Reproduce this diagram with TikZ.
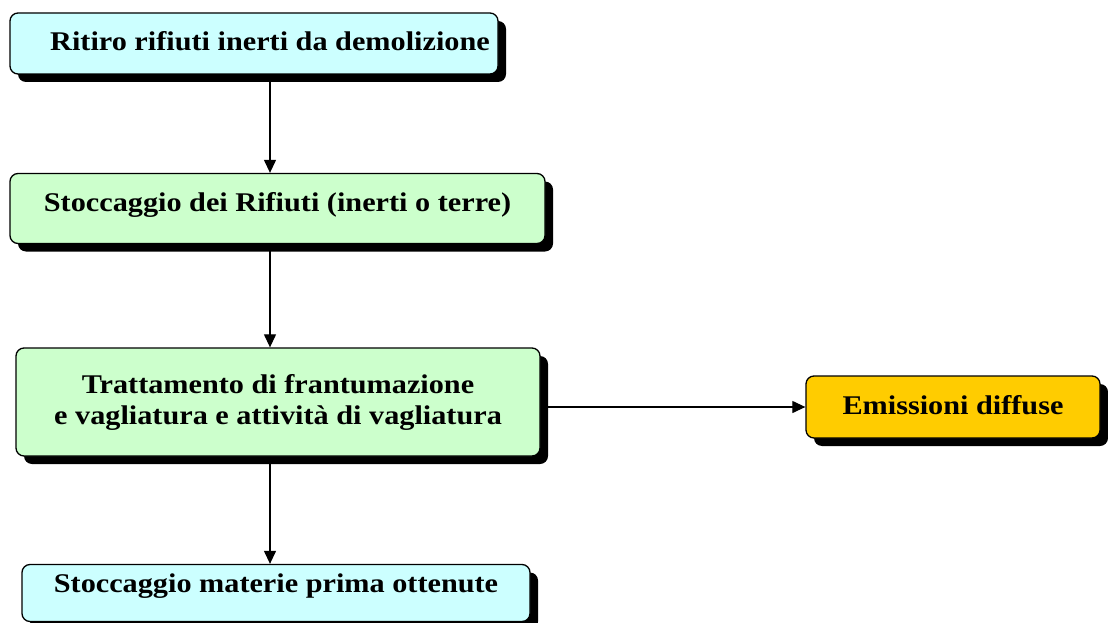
\documentclass[tikz,border=0pt]{standalone}
\usepackage{fontspec}
\setmainfont{Liberation Serif}[FakeStretch=1.12]
\usepackage{xcolor}
\usetikzlibrary{positioning, shadows, arrows.meta}

\definecolor{lightcyan}{HTML}{CCFFFF}
\definecolor{lightgreen}{HTML}{CCFFCC}
\definecolor{gold}{HTML}{FFCC00}

\begin{document}
\begin{tikzpicture}
    [
      x=1pt, y=-1pt,
      every node/.style = {shape=rectangle, rounded corners=8pt, draw, line width=1.3pt, align=center,
        font=\bfseries\fontsize{27}{31}\selectfont,
        drop shadow={shadow xshift=8pt, shadow yshift=-8pt, fill=black, opacity=1}},
      textlift/.style = {text height=18pt, text depth=#1},
      flow/.style = {line width=1.2pt, -{Triangle[length=13pt, width=12pt]}}
    ]
    \useasboundingbox (0,0) rectangle (1108,623);

    \node[fill=lightcyan, minimum width=488pt, minimum height=61pt, textlift=3pt] (rit) at (254,43.5)
      {\hspace*{32pt}Ritiro rifiuti inerti da demolizione};
    \node[fill=lightgreen, minimum width=535pt, minimum height=70pt, textlift=12pt] (sto) at (277.5,208.5)
      {Stoccaggio dei Rifiuti (inerti o terre)};
    \node[fill=lightgreen, minimum width=524pt, minimum height=108pt] (tra) at (278,402)
      {Trattamento di frantumazione\\e vagliatura e attivit\`a di vagliatura};
    \node[fill=gold, minimum width=294pt, minimum height=62pt, textlift=4pt] (emi) at (953,407)
      {Emissioni diffuse};
    \node[fill=lightcyan, minimum width=508pt, minimum height=57pt, textlift=20pt] (mat) at (276,593)
      {Stoccaggio materie prima ottenute};

    \coordinate (axis) at (270,0);

    \draw[flow] (rit.south -| axis) -- (sto.north -| axis);
    \draw[flow] (sto.south -| axis) -- (tra.north -| axis);
    \draw[flow] (tra.south -| axis) -- (mat.north -| axis);
    \draw[flow] (tra.east |- emi) -- (emi.west);
\end{tikzpicture}
\end{document}
